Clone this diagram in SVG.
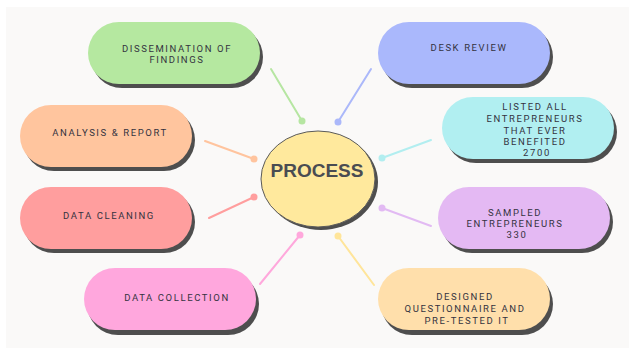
<svg xmlns="http://www.w3.org/2000/svg" width="629" height="348" viewBox="0 0 629 348">
  <style>
    .shadow { fill: #4e4e4e; }
    .lbl { font-family: Roboto, "Liberation Sans", sans-serif; font-size: 9.5px; font-weight: 400; letter-spacing: 1.6px; fill: #34333f; text-anchor: middle; }
    .title { font-family: "Liberation Sans", Arial, sans-serif; font-size: 19px; font-weight: bold; fill: #4a4c52; text-anchor: middle; }
    .link line { stroke-width: 2; stroke-linecap: round; }
  </style>
  <defs>
    <!-- reusable pill outline, 172 x 62 -->
    <rect id="pill" x="0" y="0" width="172" height="62" rx="31" ry="31"/>
  </defs>

  <rect x="0" y="0" width="629" height="348" fill="#ffffff"/>
  <rect x="6" y="7" width="623" height="341" fill="#faf9f8"/>

  <!-- connectors -->
  <g id="connectors" class="link">
    <line x1="271" y1="69" x2="302" y2="121" stroke="#b6e6a2"/>
    <circle cx="302" cy="121" r="3.5" fill="#b6e6a2"/>
    <line x1="371" y1="69" x2="338" y2="122" stroke="#abb8fa"/>
    <circle cx="338" cy="122" r="3.5" fill="#abb8fa"/>
    <line x1="205" y1="141" x2="254" y2="159" stroke="#ffc49e"/>
    <circle cx="254" cy="159" r="3.5" fill="#ffc49e"/>
    <line x1="431" y1="140" x2="382" y2="158" stroke="#b2eef0"/>
    <circle cx="382" cy="158" r="3.5" fill="#b2eef0"/>
    <line x1="209" y1="218" x2="254" y2="197" stroke="#ff9e9e"/>
    <circle cx="254" cy="197" r="3.5" fill="#ff9e9e"/>
    <line x1="431" y1="226" x2="382" y2="208" stroke="#e2baf3"/>
    <circle cx="382" cy="208" r="3.5" fill="#e2baf3"/>
    <line x1="260" y1="284" x2="300" y2="235" stroke="#ffa8dc"/>
    <circle cx="300" cy="235" r="3.5" fill="#ffa8dc"/>
    <line x1="374" y1="285" x2="338" y2="236" stroke="#ffe59a"/>
    <circle cx="338" cy="236" r="3.5" fill="#ffe59a"/>
  </g>

  <!-- centre -->
  <g id="process">
    <ellipse cx="321" cy="182" rx="57" ry="48" class="shadow"/>
    <ellipse cx="318" cy="179" rx="57" ry="48" fill="#ffe99d" stroke="#5a5a5a" stroke-width="1"/>
    <text x="317" y="177" class="title">PROCESS</text>
  </g>

  <g id="dissemination">
    <use href="#pill" x="91" y="26" class="shadow"/>
    <use href="#pill" x="88" y="22" fill="#b5e8a0"/>
    <text class="lbl"><tspan x="177" y="52">DISSEMINATION OF</tspan><tspan x="177" y="63">FINDINGS</tspan></text>
  </g>

  <g id="desk-review">
    <use href="#pill" x="381" y="26" class="shadow"/>
    <use href="#pill" x="378" y="22" fill="#aab8fc"/>
    <text x="469" y="51" class="lbl">DESK REVIEW</text>
  </g>

  <g id="analysis">
    <use href="#pill" x="23" y="109" class="shadow"/>
    <use href="#pill" x="20" y="105" fill="#ffc59e"/>
    <text x="110" y="136" class="lbl">ANALYSIS &amp; REPORT</text>
  </g>

  <g id="listed">
    <use href="#pill" x="445" y="101" class="shadow"/>
    <use href="#pill" x="442" y="97" fill="#b1eff1"/>
    <text class="lbl">
      <tspan x="537" y="110">LISTED ALL</tspan>
      <tspan x="537" y="122">ENTREPRENEURS</tspan>
      <tspan x="537" y="134">THAT EVER</tspan>
      <tspan x="537" y="145">BENEFITED</tspan>
      <tspan x="537" y="156">2700</tspan>
    </text>
  </g>

  <g id="cleaning">
    <use href="#pill" x="23" y="191" class="shadow"/>
    <use href="#pill" x="20" y="187" fill="#ff9e9e"/>
    <text x="109" y="219" class="lbl">DATA CLEANING</text>
  </g>

  <g id="sampled">
    <use href="#pill" x="441" y="191" class="shadow"/>
    <use href="#pill" x="438" y="187" fill="#e4b9f3"/>
    <text class="lbl">
      <tspan x="517" y="216">SAMPLED</tspan>
      <tspan x="517" y="227">ENTREPRENEURS</tspan>
      <tspan x="517" y="238">330</tspan>
    </text>
  </g>

  <g id="collection">
    <use href="#pill" x="87" y="273" class="shadow"/>
    <use href="#pill" x="84" y="268" fill="#ffa7dd"/>
    <text x="177" y="301" class="lbl">DATA COLLECTION</text>
  </g>

  <g id="questionnaire">
    <use href="#pill" x="381" y="273" class="shadow"/>
    <use href="#pill" x="378" y="268" fill="#ffdfab"/>
    <text class="lbl">
      <tspan x="467" y="300">DESIGNED</tspan>
      <tspan x="467" y="312">QUESTIONNAIRE AND</tspan>
      <tspan x="467" y="324">PRE-TESTED IT</tspan>
    </text>
  </g>
</svg>
